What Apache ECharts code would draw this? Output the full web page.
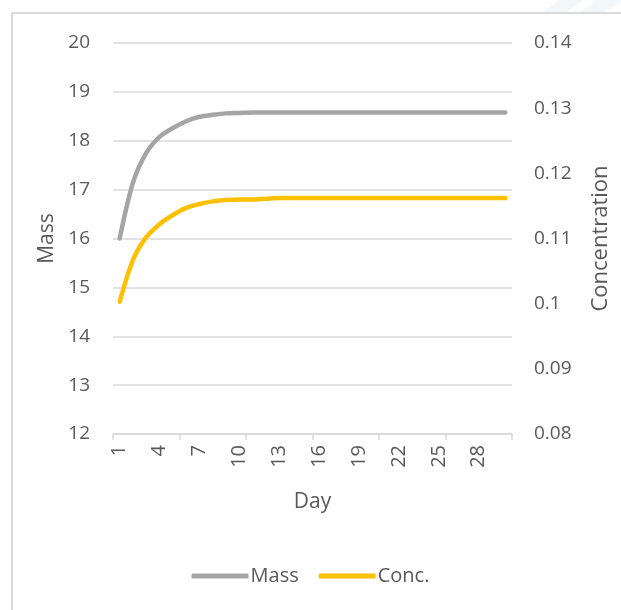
<!DOCTYPE html>
<html>
<head>
<meta charset="utf-8">
<script src="https://cdn.jsdelivr.net/npm/echarts@6/dist/echarts.min.js"></script>
<style>
html,body{margin:0;padding:0;background:#fff;}
#chart{width:621px;height:610px;}
</style>
</head>
<body>
<div id="chart"></div>
<script>
const days = Array.from({length: 30}, (_, i) => String(i + 1));
const massValues = [16.00, 17.14, 17.75, 18.08, 18.26, 18.40, 18.49, 18.53, 18.56, 18.57,
  18.58, 18.58, 18.58, 18.58, 18.58, 18.58, 18.58, 18.58, 18.58, 18.58,
  18.58, 18.58, 18.58, 18.58, 18.58, 18.58, 18.58, 18.58, 18.58, 18.58];
const concValues = [0.1003, 0.1067, 0.1102, 0.1122, 0.1136, 0.1147, 0.1153, 0.1157, 0.1159, 0.1160,
  0.1160, 0.1161, 0.1162, 0.1162, 0.1162, 0.1162, 0.1162, 0.1162, 0.1162, 0.1162,
  0.1162, 0.1162, 0.1162, 0.1162, 0.1162, 0.1162, 0.1162, 0.1162, 0.1162, 0.1162];
const massTicks = {min: 12, max: 20, interval: 1};
const concTicks = {min: 0.08, max: 0.14, interval: 0.01};

const FONT = 'Open Sans';
const TXT = '#595959';
const chart = echarts.init(document.getElementById('chart'), null, {renderer: 'canvas'});
chart.setOption({
  animation: false,
  backgroundColor: '#ffffff',
  graphic: [
    {type: 'polygon', silent: true, shape: {points: [[560, 0], [583, 0], [566, 12], [543, 12]]}, style: {fill: '#f2f7fa'}},
    {type: 'polygon', silent: true, shape: {points: [[597, 0], [621, 0], [621, 2], [604, 12], [580, 12]]}, style: {fill: '#f2f7fa'}},
    {type: 'rect', silent: true, shape: {x: 12, y: 13, width: 700, height: 700}, style: {fill: 'none', stroke: '#d9d9d9', lineWidth: 2}}
  ],
  grid: {left: 113, right: 109, top: 43, bottom: 176, containLabel: false},
  legend: {
    bottom: 19, left: 'center',
    icon: 'roundRect', itemWidth: 57, itemHeight: 5, itemGap: 20,
    textStyle: {fontFamily: FONT, fontSize: 20, color: TXT, padding: [0, 0, 0, -3]},
    data: ['Mass', 'Conc.']
  },
  xAxis: {
    type: 'category', data: days, boundaryGap: true,
    name: 'Day', nameLocation: 'middle', nameGap: 58,
    nameTextStyle: {fontFamily: FONT, fontSize: 21, color: TXT},
    axisLine: {lineStyle: {color: '#d9d9d9', width: 1.5}},
    axisTick: {show: true, interval: 4, length: 6, lineStyle: {color: '#d9d9d9', width: 1.5}},
    axisLabel: {interval: 2, rotate: 90, fontFamily: FONT, fontSize: 20, color: TXT, margin: 11},
    splitLine: {show: false}
  },
  yAxis: [
    {
      type: 'value', min: massTicks.min, max: massTicks.max, interval: massTicks.interval,
      name: 'Mass', nameLocation: 'middle', nameGap: 55, nameRotate: 90,
      nameTextStyle: {fontFamily: FONT, fontSize: 21, color: TXT},
      axisLine: {show: false}, axisTick: {show: false},
      axisLabel: {fontFamily: FONT, fontSize: 19, color: TXT, margin: 23},
      splitLine: {lineStyle: {color: '#d9d9d9', width: 1.5}}
    },
    {
      type: 'value', min: concTicks.min, max: concTicks.max, interval: concTicks.interval,
      name: 'Concentration', nameLocation: 'middle', nameGap: 78, nameRotate: 90,
      nameTextStyle: {fontFamily: FONT, fontSize: 22, color: TXT},
      axisLine: {show: false}, axisTick: {show: false},
      axisLabel: {fontFamily: FONT, fontSize: 19, color: TXT, margin: 22, formatter: v => String(+v.toFixed(2))},
      splitLine: {show: false}
    }
  ],
  series: [
    {
      name: 'Mass', type: 'line', yAxisIndex: 0, data: massValues,
      smooth: 0.3, showSymbol: false, symbol: 'none',
      lineStyle: {color: '#A5A5A5', width: 4.5, cap: 'round', join: 'round'},
      itemStyle: {color: '#A5A5A5'}
    },
    {
      name: 'Conc.', type: 'line', yAxisIndex: 1, data: concValues,
      smooth: 0.3, showSymbol: false, symbol: 'none',
      lineStyle: {color: '#FFC000', width: 4.5, cap: 'round', join: 'round'},
      itemStyle: {color: '#FFC000'}
    }
  ]
});
</script>
</body>
</html>
